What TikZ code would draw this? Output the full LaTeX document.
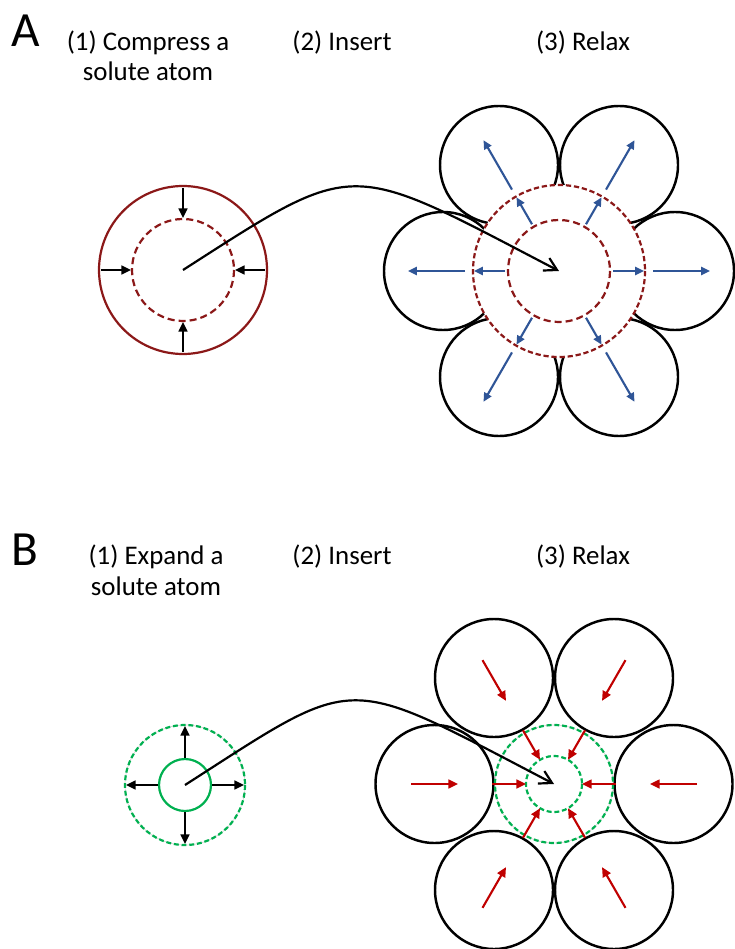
\documentclass[tikz,border=0pt]{standalone}
\usepackage{fontspec}
\setmainfont{Carlito}
\usetikzlibrary{arrows.meta,calc}
\newcommand{\ATOMR}{59}
\newcommand{\LINEW}{1.25pt}
\definecolor{mydarkred}{RGB}{139,24,24}
\definecolor{myblue}{RGB}{47,85,151}
\definecolor{myred}{RGB}{192,0,0}
\definecolor{mygreen}{RGB}{0,176,80}

\begin{document}
\begin{tikzpicture}[x=0.02cm,y=-0.02cm,
	font=\fontsize{15.3}{17.5}\selectfont,
	biglabel/.style={font=\fontsize{28}{30}\selectfont,anchor=base,inner sep=0pt},
	steplabel/.style={align=center,anchor=base,inner sep=0pt},
	atom/.style={black,line width=1.4pt},
	solute/.style={mydarkred,line width=\LINEW},
	solutedash/.style={mydarkred,line width=\LINEW,dash pattern=on 4pt off 2.3pt},
	solutedashfine/.style={mydarkred,line width=\LINEW,dash pattern=on 3pt off 1.6pt},
	expgreen/.style={mygreen,line width=\LINEW},
	expgreendash/.style={mygreen,line width=\LINEW,dash pattern=on 2.8pt off 1.6pt},
	pusharrow/.style={black,line width=1.2pt,-{Triangle[length=5.5pt,width=5pt]}},
	outarrow/.style={myblue,line width=1.2pt,-{Triangle[length=5pt,width=4.6pt]}},
	inarrow/.style={myred,line width=1.2pt,-{Triangle[length=5.5pt,width=5pt]}},
	curvearrow/.style={black,line width=\LINEW,-{Straight Barb[length=7pt,width=8pt]}}]
	\useasboundingbox (0,0) rectangle (734,949);

		%% labels
		\node[biglabel] (labA) at (25.5,46.5) {A};
		\node[steplabel] (a1txt) at (148,81) {(1) Compress a\\solute atom};
		\node[steplabel] (a2txt) at (342,51) {(2) Insert};
		\node[steplabel] (a3txt) at (583,51) {(3) Relax};

		\node[biglabel] (labB) at (25,565) {B};
		\node[steplabel] (b1txt) at (156,595) {(1) Expand a\\solute atom};
		\node[steplabel] (b2txt) at (342,564) {(2) Insert};
		\node[steplabel] (b3txt) at (583,564) {(3) Relax};

		\coordinate (a1) at (183,270);
		\coordinate (a3) at (559,271);
		\coordinate (b1) at (185,785);
		\coordinate (b3) at (554,784);

		%% A: compress
		\draw[solute] (a1) circle[radius=84];
		\draw[solutedash] (a1) circle[radius=51];
		\foreach \ang in {0,90,180,270}
			\draw[pusharrow] ($(a1)+(\ang:82)$) -- ($(a1)+(\ang:52)$);

		%% A: relax
		\foreach \dx/\dy in {116/0,60/-106,-60/-106,-116/0,-60/106,60/106}
			\draw[atom] ($(a3)+(\dx,\dy)$) circle[radius=\ATOMR];
		\draw[solutedashfine,fill=white] (a3) circle[radius=86];
		\draw[solutedash] (a3) circle[radius=51];
		\foreach \ang in {0,60,...,300}{
			\draw[outarrow] ($(a3)+(\ang:54)$) -- ($(a3)+(\ang:85)$);
			\draw[outarrow] ($(a3)+(\ang:94)$) -- ($(a3)+(\ang:151)$);
		}
		\draw[curvearrow] (a1) .. controls +(176,-113) and +(-213,-111) .. (a3);

		%% B: expand
		\draw[expgreen] (b1) circle[radius=26];
		\draw[gray!35,line width=0.4pt] (b1) circle[radius=60];
		\draw[expgreendash] (b1) circle[radius=60];
		\foreach \ang in {0,90,180,270}
			\draw[pusharrow] ($(b1)+(\ang:27)$) -- ($(b1)+(\ang:59)$);

		%% B: relax
		\foreach \dx/\dy in {119.5/0,60/-106,-60/-106,-119.5/0,-60/106,60/106}
			\draw[atom] ($(b3)+(\dx,\dy)$) circle[radius=\ATOMR];
		\draw[gray!35,line width=0.4pt] (b3) circle[radius=59];
		\draw[expgreendash] (b3) circle[radius=59];
		\draw[expgreendash] (b3) circle[radius=28];
		\foreach \ang in {0,60,...,300}{
			\draw[inarrow] ($(b3)+(\ang:143)$) -- ($(b3)+(\ang:96)$);
			\draw[inarrow] ($(b3)+(\ang:62)$) -- ($(b3)+(\ang:28)$);
		}
		\draw[curvearrow] (b1) .. controls +(176,-113) and +(-213,-111) .. (b3);

	\end{tikzpicture}
\end{document}
